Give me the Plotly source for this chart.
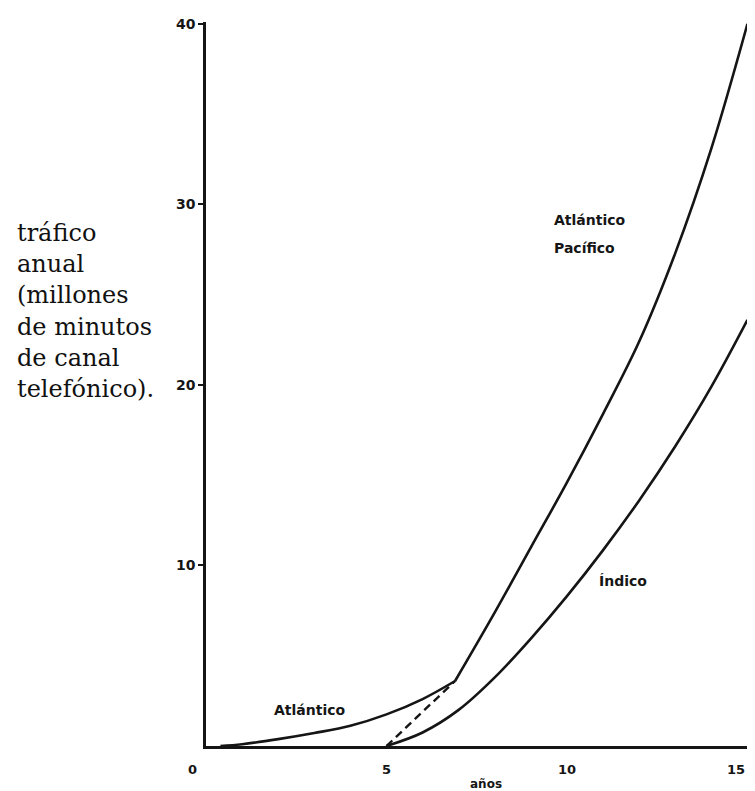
import plotly.graph_objects as go

# Data
atl_x = [0.4, 1, 2, 3, 4, 5, 6, 6.9]
atl_y = [0, 0.1, 0.38, 0.72, 1.12, 1.75, 2.6, 3.6]

dash_x = [5, 6.9]
dash_y = [0, 3.6]

atlpac_x = [6.9, 8, 9, 10, 11, 12, 13, 14, 15]
atlpac_y = [3.6, 7.4, 11.0, 14.6, 18.4, 22.4, 27.3, 33.1, 40]

indico_x = [5, 6, 7, 8, 9, 10, 11, 12, 13, 14, 15]
indico_y = [0, 0.75, 2.0, 3.8, 5.95, 8.3, 10.85, 13.6, 16.6, 19.9, 23.6]

x_ticks = [0, 5, 10, 15]
x_ticktext = ["0", "5", "10", "15"]
y_ticks = [10, 20, 30, 40]
y_ticktext = ["10", "20", "30", "40"]

ink = "#151515"

fig = go.Figure()
fig.add_trace(go.Scatter(x=atl_x, y=atl_y, mode="lines",
                         line=dict(color=ink, width=2.6, shape="spline"), hoverinfo="skip"))
fig.add_trace(go.Scatter(x=dash_x, y=dash_y, mode="lines",
                         line=dict(color=ink, width=2.4, dash="8px,5px"), hoverinfo="skip"))
fig.add_trace(go.Scatter(x=atlpac_x, y=atlpac_y, mode="lines",
                         line=dict(color=ink, width=2.6, shape="spline"), hoverinfo="skip"))
fig.add_trace(go.Scatter(x=indico_x, y=indico_y, mode="lines",
                         line=dict(color=ink, width=2.6, shape="spline"), hoverinfo="skip"))

label_font = dict(family="DejaVu Sans", size=14, color=ink)

fig.add_annotation(x=2.87, y=2.0, text="<b>Atlántico</b>", showarrow=False,
                   font=label_font, xanchor="center", yanchor="middle")
fig.add_annotation(x=9.59, y=29.15, text="<b>Atlántico</b>", showarrow=False,
                   font=label_font, xanchor="left", yanchor="middle")
fig.add_annotation(x=9.59, y=27.6, text="<b>Pacífico</b>", showarrow=False,
                   font=label_font, xanchor="left", yanchor="middle")
fig.add_annotation(x=11.54, y=9.13, text="<b>Índico</b>", showarrow=False,
                   font=label_font, xanchor="center", yanchor="middle")

# x tick labels (placed below the axis as in the reference)
x_shifts = [-14, 0, 0, -11]
for xv, xt, sh in zip(x_ticks, x_ticktext, x_shifts):
    fig.add_annotation(x=xv, xref="x", yref="paper", y=-0.033, text="<b>" + xt + "</b>",
                       showarrow=False, xshift=sh,
                       font=dict(family="DejaVu Sans", size=13, color=ink),
                       xanchor="center", yanchor="middle")

fig.add_annotation(xref="paper", yref="paper", x=0.515, y=-0.040,
                   text="<b>años</b>", showarrow=False,
                   font=dict(family="DejaVu Sans", size=12, color=ink),
                   xanchor="center", yanchor="top")

fig.add_annotation(xref="paper", yref="paper", x=-0.352, y=0.730,
                   text="tráfico<br>anual<br>(millones<br>de minutos<br>de canal<br>telefónico).",
                   showarrow=False, align="left", xanchor="left", yanchor="top",
                   font=dict(family="DejaVu Serif", size=24, color="#111111"))

fig.update_layout(
    width=750, height=783,
    margin=dict(l=198, r=8, t=14, b=45, autoexpand=False),
    paper_bgcolor="white", plot_bgcolor="white",
    showlegend=False,
    xaxis=dict(range=[0, 15.07], tickvals=x_ticks, showticklabels=False, automargin=False,
               showgrid=False, zeroline=False, showline=True, linecolor=ink, linewidth=2.6,
               ticks=""),
    yaxis=dict(range=[0, 40.1], tickvals=y_ticks, ticktext=["<b>" + t + "</b>" for t in y_ticktext],
               automargin=False,
               showgrid=False, zeroline=False, showline=True, linecolor=ink, linewidth=2.6,
               ticks="outside", ticklen=5, tickwidth=1.5, tickcolor=ink,
               tickfont=dict(family="DejaVu Sans", size=14, color=ink)),
)

fig.write_html("out.html")
